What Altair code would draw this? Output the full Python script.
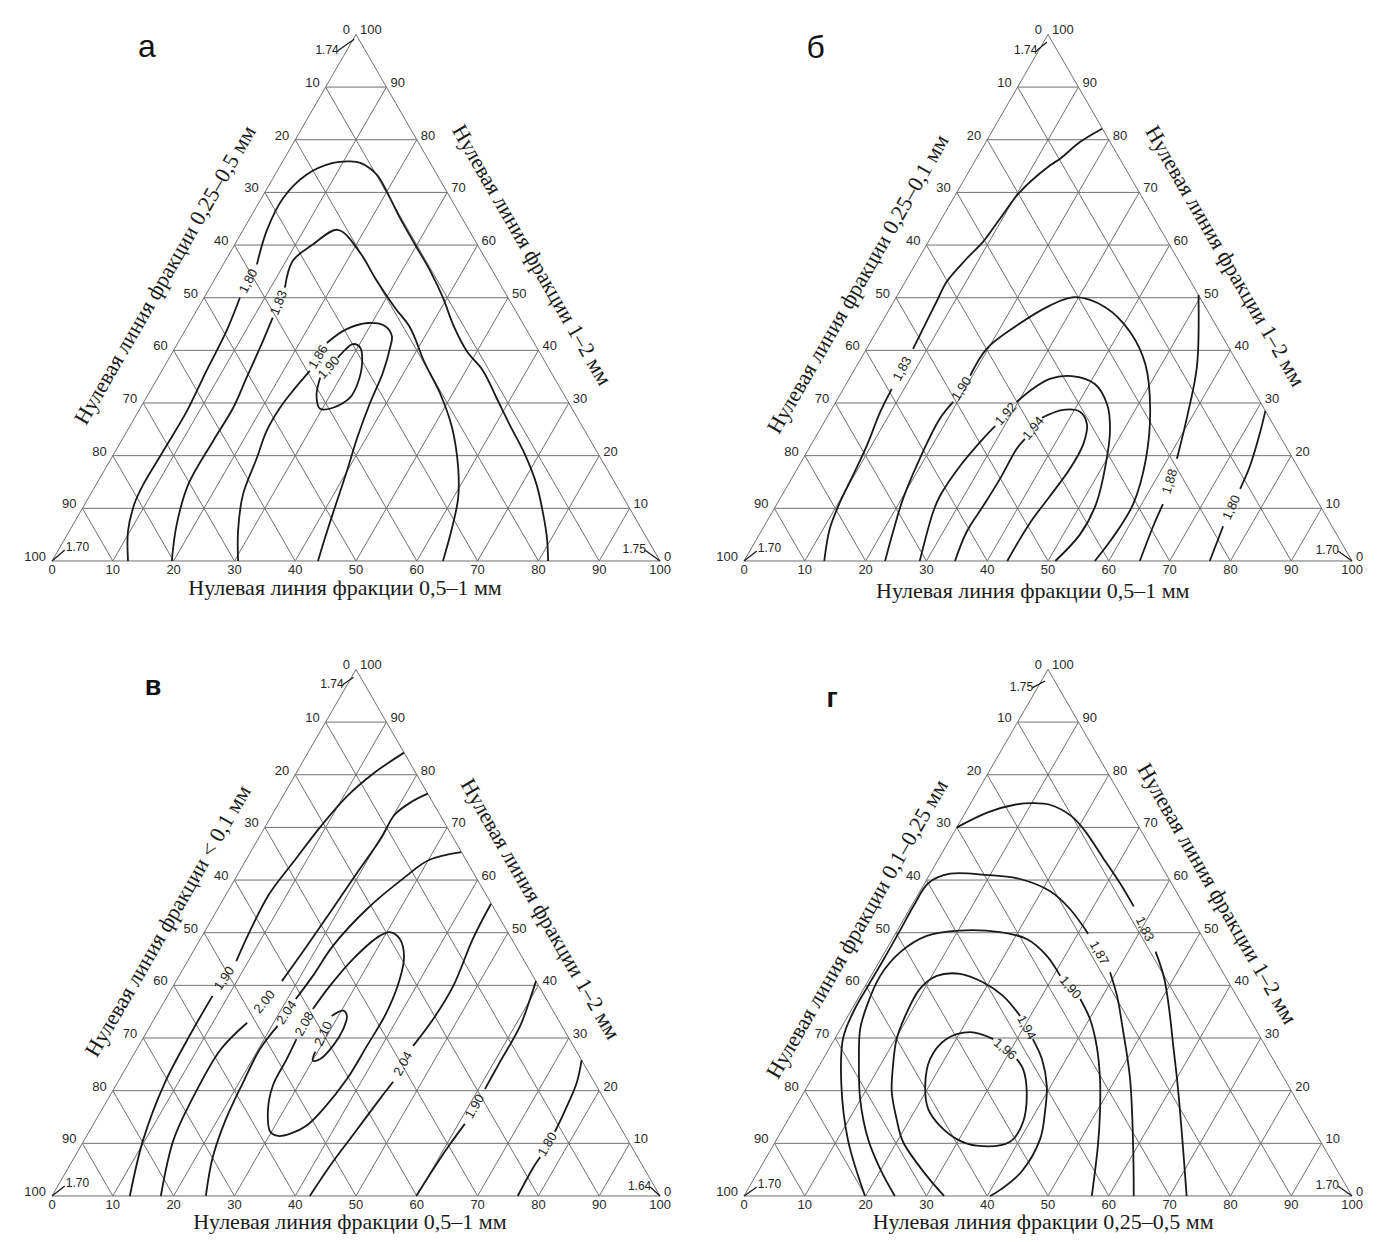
import math
import altair as alt
import pandas as pd

# ------------------------------------------------------------------
# Readings.  Every point is (x, c):
#   x = position read on the bottom scale (0..100)
#   c = level read on the horizontal grid (0 at the base, 100 at the apex)
# ------------------------------------------------------------------
TICKS = list(range(0, 101, 10))
GRID = list(range(10, 100, 10))

# ---- panel а ----
A_180 = [(12.5, 0), (12.5, 5.7), (13.6, 11.0), (15.0, 14.5), (18.3, 20.9), (22.2, 28.5), (25.4, 36.1),
         (28.7, 43.7), (30.9, 50.0), (33.7, 56.3), (35.3, 62.7), (38.0, 68.9), (41.9, 73.4), (46.2, 75.6),
         (49.0, 75.9), (50.7, 75.6), (53.4, 73.4), (55.0, 70.3), (57.2, 65.2), (59.7, 60.1), (62.2, 55.1),
         (64.3, 50.0), (66.0, 44.8), (68.2, 39.9), (70.9, 36.1), (73.1, 31.0), (75.3, 25.8), (77.8, 20.2),
         (79.7, 14.5), (80.8, 8.8), (81.4, 4.4), (81.6, 0)]
A_183 = [(19.7, 0), (20.5, 6.9), (22.4, 14.5), (26.5, 22.8), (29.8, 29.1), (32.0, 34.8), (34.7, 41.8),
         (36.3, 46.2), (38.3, 51.9), (39.6, 57.0), (42.9, 60.1), (47.0, 62.9), (50.7, 58.5), (53.1, 53.8),
         (56.4, 48.1), (58.9, 44.3), (61.3, 37.6), (63.8, 31.9), (65.8, 25.3), (66.8, 17.7), (66.8, 12.0),
         (65.8, 6.3), (64.3, 0)]
A_186 = [(30.6, 0), (30.6, 5.7), (31.4, 12.6), (33.7, 19.6), (35.3, 24.7), (37.5, 29.1), (39.6, 32.3),
         (42.4, 36.1), (45.2, 41.4), (48.2, 43.9), (52.0, 45.2), (54.8, 44.6), (55.9, 42.7), (55.6, 40.5),
         (54.4, 35.7), (52.3, 30.0), (50.2, 23.4), (48.4, 16.7), (46.5, 10.1), (44.9, 4.4), (43.75, 0)]
A_190 = [(44.1, 34.8), (43.5, 31.3), (44.1, 28.9), (46.2, 29.1), (49.0, 31.0), (50.3, 33.8), (51.0, 37.6),
         (50.7, 40.5), (49.5, 41.2), (48.2, 40.1), (47.0, 38.6)]

# ---- panel б ----
B_183 = [(13.2, 0), (14.1, 6.1), (15.8, 11.2), (17.9, 16.2), (20.2, 21.9), (22.4, 28.3), (24.3, 32.7),
         (27.8, 40.3), (30.0, 45.4), (31.9, 49.8), (33.3, 53.0), (36.6, 57.4), (39.3, 60.6), (42.1, 65.0),
         (45.4, 70.1), (50.3, 75.1), (52.0, 76.4), (55.3, 79.6), (58.9, 82.1)]
B_190 = [(23.2, 0), (24.5, 5.5), (26.15, 11.8), (28.9, 19.4), (32.2, 27.0), (34.4, 30.2), (37.2, 35.2),
         (39.9, 40.3), (44.85, 44.7), (50.3, 48.5), (54.4, 50.1), (59.4, 48.2), (63.5, 43.5), (66.0, 37.4),
         (66.8, 28.9), (66.1, 19.4), (64.0, 10.8), (60.5, 4.2), (57.7, 0)]
B_192 = [(28.9, 0), (31.1, 9.3), (32.2, 12.3), (35.5, 18.0), (39.3, 23.2), (41.3, 25.6), (44.85, 30.2),
         (47.5, 32.7), (50.3, 34.6), (53.9, 35.1), (57.7, 33.6), (59.7, 29.8), (60.2, 25.1), (59.5, 18.4),
         (57.9, 10.8), (55.3, 5.1), (51.2, 0)]
B_194 = [(34.7, 0), (36.6, 5.5), (39.3, 10.4), (42.1, 15.6), (44.85, 21.3), (46.2, 23.2), (49.0, 27.2),
         (52.5, 28.7), (55.3, 28.3), (56.4, 26.0), (55.8, 22.2), (53.6, 17.5), (50.3, 12.3), (47.5, 8.0),
         (45.4, 4.2), (43.3, 0)]
B_188 = [(74.75, 50.5), (74.5, 37.0), (72.9, 27.5), (71.2, 19.4), (68.9, 10.8), (67.3, 6.6), (65.1, 0)]
B_180 = [(85.75, 28.5), (84.9, 24.5), (83.2, 18.0), (81.6, 13.7), (78.8, 6.6), (76.6, 0)]

# ---- panel в ----
C_190L = [(12.8, 0), (15.0, 10.7), (18.55, 21.5), (22.8, 30.8), (26.4, 38.0), (30.3, 44.6), (32.8, 50.9),
          (35.7, 57.3), (39.95, 63.8), (44.2, 70.2), (48.5, 75.9), (52.8, 80.2), (57.9, 84.2)]
C_200 = [(17.9, 0), (20.0, 10.7), (23.5, 19.4), (27.8, 27.9), (32.1, 32.9), (37.8, 40.8), (41.4, 46.6),
         (45.7, 53.8), (49.9, 60.9), (54.2, 68.1), (56.35, 72.4), (59.2, 74.9), (61.8, 76.4)]
C_204L = [(25.3, 0), (26.4, 7.2), (28.5, 14.3), (31.4, 21.5), (34.2, 27.9), (37.1, 32.3), (40.1, 37.4),
          (42.9, 41.8), (46.2, 47.5), (51.8, 54.5), (58.1, 60.6), (62.0, 63.8), (67.3, 65.3)]
C_208 = [(42.9, 35.5), (45.7, 39.9), (49.5, 45.0), (53.9, 49.4), (55.6, 50.1), (57.2, 48.8), (57.9, 45.6),
         (57.2, 41.2), (55.05, 34.9), (51.8, 28.5), (48.5, 22.2), (44.6, 16.5), (41.9, 13.4), (39.1, 11.8),
         (37.2, 11.4), (35.9, 12.2), (35.5, 16.0), (36.3, 20.9), (38.6, 26.0), (40.2, 29.8)]
C_210 = [(46.0, 34.2), (47.9, 35.2), (48.5, 34.2), (47.9, 31.7), (46.2, 28.5), (44.1, 26.0), (42.9, 25.7),
         (43.3, 27.4)]
C_204R = [(72.2, 55.5), (69.2, 48.8), (66.0, 39.9), (62.7, 33.6), (59.4, 28.5), (56.1, 21.7), (53.9, 18.4),
          (49.9, 12.2), (45.7, 5.7), (42.4, 0)]
C_190R = [(79.6, 40.8), (78.8, 38.0), (77.0, 32.3), (73.5, 25.1), (71.2, 20.3), (67.9, 13.7), (65.5, 9.9),
          (63.5, 6.5), (59.9, 0)]
C_180 = [(87.1, 25.8), (86.3, 21.5), (84.2, 15.8), (82.7, 12.2), (80.3, 7.4), (79.2, 5.5), (76.6, 0)]

# ---- panel г ----
D_183 = [(35.0, 70.0), (40.2, 72.9), (44.5, 74.3), (47.4, 74.6), (50.3, 74.3), (53.9, 72.1), (56.1, 69.3),
         (59.0, 64.3), (61.9, 59.3), (64.1, 55.0), (67.7, 46.4), (69.1, 41.4), (69.9, 35.7), (70.6, 28.5),
         (71.3, 21.3), (72.0, 12.1), (72.8, 0)]
D_187 = [(19.9, 0), (17.1, 10.6), (16.0, 21.3), (16.3, 30.0), (18.3, 35.7), (20.4, 39.9), (23.0, 45.0),
         (25.5, 50.1), (28.0, 55.3), (30.3, 59.4), (33.9, 61.2), (39.6, 61.0), (45.4, 60.2), (50.3, 57.9),
         (53.6, 54.5), (56.6, 49.8), (60.2, 42.5), (61.35, 38.0), (62.3, 31.7), (63.5, 22.2), (64.0, 9.5),
         (64.1, 0)]
D_190 = [(24.8, 0), (22.4, 5.1), (20.4, 10.8), (19.1, 18.4), (18.9, 26.0), (19.1, 31.7), (20.2, 36.1),
         (22.4, 41.8), (25.7, 46.3), (30.05, 49.4), (35.5, 50.4), (42.1, 50.1), (46.5, 48.8), (49.8, 45.6),
         (52.0, 41.8), (55.3, 37.4), (56.9, 33.6), (58.0, 28.5), (58.55, 22.2), (58.55, 16.0), (58.2, 9.5),
         (57.2, 0)]
D_194 = [(32.9, 0), (29.8, 4.2), (26.15, 10.3), (25.1, 14.6), (24.3, 19.75), (24.5, 24.7), (25.1, 29.8),
         (26.8, 34.9), (28.9, 39.3), (31.7, 41.8), (35.5, 42.2), (39.3, 40.6), (42.6, 38.0), (45.4, 34.2),
         (47.5, 29.8), (49.0, 26.0), (49.8, 20.95), (49.5, 15.95), (48.7, 10.8), (45.7, 4.7), (42.3, 1.3),
         (40.5, 0)]
D_196 = [(41.0, 29.8), (37.2, 31.1), (33.3, 29.8), (30.6, 26.0), (29.8, 20.95), (30.3, 16.5), (32.2, 13.35),
         (35.0, 10.8), (38.3, 9.55), (43.75, 10.3), (45.9, 14.05), (46.5, 19.75), (45.9, 24.1), (44.85, 26.0)]

# contour: (label, points, index after which the label gap sits, closed loop?)
CONTOURS = {
    "а": [("1,80", A_180, 8, False), ("1,83", A_183, 7, False), ("1,86", A_186, 7, False),
          ("1,90", A_190, None, True)],
    "б": [("1,83", B_183, 6, False), ("1,90", B_190, 5, False), ("1,92", B_192, 5, False),
          ("1,94", B_194, 5, False), ("1,88", B_188, 3, False), ("1,80", B_180, 3, False)],
    "в": [("1,90", C_190L, 4, False), ("2.00", C_200, 4, False), ("2.04", C_204L, 5, False),
          ("2.08", C_208, None, True), ("2.10", C_210, None, True), ("2.04", C_204R, 4, False),
          ("1.90", C_190R, 4, False), ("1.80", C_180, 3, False)],
    "г": [("1,83", D_183, 9, False), ("1,87", D_187, 15, False), ("1,90", D_190, 14, False),
          ("1,94", D_194, 13, False), ("1,96", D_196, None, True)],
}

# short leader lines at the corners: (label, points, label sits at "first"/"last" point)
LEADERS = {
    "а": [("1.74", [(47.0, 96.9), (49.7, 99.1)], "first"), ("1.70", [(0, 0), (2.1, 2.1)], "last"),
          ("1.75", [(97.5, 2.1), (100, 0)], "first")],
    "б": [("1.74", [(48.1, 96.9), (49.8, 98.5)], "first"), ("1.70", [(0, 0), (2.1, 1.9)], "last"),
          ("1.70", [(97.7, 1.9), (100, 0)], "first")],
    "в": [("1.74", [(47.8, 97.1), (49.6, 98.5)], "first"), ("1.70", [(0, 0), (2.1, 1.9)], "last"),
          ("1.64", [(98.4, 1.7), (100, 0)], "first")],
    "г": [("1.75", [(47.4, 96.5), (49.5, 97.8)], "first"), ("1.70", [(0, 0), (2.1, 1.7)], "last"),
          ("1.70", [(97.7, 1.9), (100, 0)], "first")],
}

TITLES = {
    "а": ("Нулевая линия фракции 0,25–0,5 мм", "Нулевая линия фракции 1–2 мм", "Нулевая линия фракции 0,5–1  мм"),
    "б": ("Нулевая линия фракции 0,25–0,1  мм", "Нулевая линия фракции 1–2  мм", "Нулевая линия фракции 0,5–1  мм"),
    "в": ("Нулевая линия фракции < 0,1  мм", "Нулевая линия фракции 1–2  мм", "Нулевая линия фракции 0,5–1  мм"),
    "г": ("Нулевая линия фракции 0,1–0,25  мм", "Нулевая линия фракции 1–2  мм", "Нулевая линия фракции 0,25–0,5  мм"),
}

# ------------------------------------------------------------------
# layout / style (kept apart from the data)
# ------------------------------------------------------------------
S3 = math.sqrt(3) / 2
K = 6.08                       # pixels per base unit
PANEL_W, PANEL_H = 672, 580
X0 = -7.24
Y_TOP = 90.95
XDOM = [X0, X0 + PANEL_W / K]
YDOM = [Y_TOP - PANEL_H / K, Y_TOP]

TITLE_POS = {   # (x, c) of left, right, bottom titles
    "а": [(18.6, 54.3), (78.9, 58.1), (48.2, -5.1)],
    "б": [(18.75, 52.6), (79.1, 57.9), (47.5, -5.7)],
    "в": [(19.1, 52.2), (80.3, 54.5), (49.0, -5.0)],
    "г": [(18.6, 50.7), (77.8, 57.4), (49.2, -5.0)],
}
LETTER_POS = {"а": (15.6, 97.6), "б": (11.8, 97.4), "в": (16.6, 96.7), "г": (14.5, 94.4)}
LETTER_STYLE = {"а": (32, "normal"), "б": (32, "normal"), "в": (27, "bold"), "г": (27, "bold")}

GRID_COLOR = "#6f6f6f"
LINE_COLOR = "#1a1a1a"
SANS = "Liberation Sans"
SERIF = "Liberation Serif"

xs = alt.Scale(domain=XDOM, nice=False, zero=False)
ys = alt.Scale(domain=YDOM, nice=False, zero=False)


def pos():
    return dict(x=alt.X("x:Q", scale=xs, axis=None), y=alt.Y("y:Q", scale=ys, axis=None))


def grid_frame():
    rows = []
    for c in GRID:
        rows.append((c / 2, c, 100 - c / 2, c))
    for t in GRID:
        rows.append((t, 0, t + (100 - t) / 2, 100 - t))
        rows.append((t, 0, t / 2, t))
    rows += [(0, 0, 100, 0), (0, 0, 50, 100), (100, 0, 50, 100)]
    return pd.DataFrame([{"x": a, "y": b * S3, "x2": c, "y2": d * S3} for a, b, c, d in rows])


def contour_frames(contours):
    segs, labs = [], []
    for ci, (text, pts, gap, closed) in enumerate(contours):
        parts = [pts] if closed else [pts[:gap + 1], pts[gap + 1:]]
        for si, part in enumerate(parts):
            for k, (u, c) in enumerate(part):
                segs.append({"seg": f"{ci}-{si}", "k": k, "x": u, "y": c * S3})
        p, q = (pts[-1], pts[0]) if closed else (pts[gap], pts[gap + 1])
        dx = q[0] - p[0]
        dy = -(q[1] - p[1]) * S3
        ang = math.degrees(math.atan2(dy, dx))
        if ang > 90:
            ang -= 180
        if ang < -90:
            ang += 180
        labs.append({"x": (p[0] + q[0]) / 2, "y": (p[1] + q[1]) / 2 * S3, "t": text, "a": ang % 360})
    return pd.DataFrame(segs), pd.DataFrame(labs)


def make_panel(key):
    layers = []
    g = grid_frame()
    layers.append(alt.Chart(g).mark_rule(color=GRID_COLOR, strokeWidth=1).encode(
        x=alt.X("x:Q", scale=xs, axis=None), y=alt.Y("y:Q", scale=ys, axis=None),
        x2="x2:Q", y2="y2:Q"))

    # tick labels
    left = pd.DataFrame([{"x": c / 2, "y": c * S3, "t": str(100 - c)} for c in TICKS])
    right = pd.DataFrame([{"x": 100 - c / 2, "y": c * S3, "t": str(c)} for c in TICKS])
    bottom = pd.DataFrame([{"x": t, "y": 0, "t": str(t)} for t in TICKS])
    tick_style = dict(font=SANS, fontSize=13, color="#2a2a2a")
    layers.append(alt.Chart(left).mark_text(align="right", baseline="middle", dx=-6, dy=-4, **tick_style)
                  .encode(text="t:N", **pos()))
    layers.append(alt.Chart(right).mark_text(align="left", baseline="middle", dx=4, dy=-4, **tick_style)
                  .encode(text="t:N", **pos()))
    layers.append(alt.Chart(bottom).mark_text(align="center", baseline="top", dy=3, **tick_style)
                  .encode(text="t:N", **pos()))

    # contours
    segs, labs = contour_frames(CONTOURS[key])
    layers.append(alt.Chart(segs).mark_line(color=LINE_COLOR, strokeWidth=1.8, interpolate="catmull-rom")
                  .encode(detail="seg:N", order="k:Q", **pos()))
    layers.append(alt.Chart(labs).mark_text(font=SANS, fontSize=13, color="#222", baseline="middle")
                  .encode(text="t:N", angle=alt.Angle("a:Q", scale=None), **pos()))

    # corner leaders
    lrows, first_lab, last_lab = [], [], []
    for li, (text, pts, where) in enumerate(LEADERS[key]):
        for k, (u, c) in enumerate(pts):
            lrows.append({"seg": li, "k": k, "x": u, "y": c * S3})
        u, c = pts[0] if where == "first" else pts[-1]
        (first_lab if where == "first" else last_lab).append({"x": u, "y": c * S3, "t": text})
    layers.append(alt.Chart(pd.DataFrame(lrows)).mark_line(color=LINE_COLOR, strokeWidth=1.3)
                  .encode(detail="seg:N", order="k:Q", **pos()))
    layers.append(alt.Chart(pd.DataFrame(first_lab)).mark_text(
        align="right", baseline="middle", dx=1, dy=-1, font=SANS, fontSize=12, color="#222")
        .encode(text="t:N", **pos()))
    layers.append(alt.Chart(pd.DataFrame(last_lab)).mark_text(
        align="left", baseline="middle", dx=1, dy=-3, font=SANS, fontSize=12, color="#222")
        .encode(text="t:N", **pos()))

    # axis titles
    tl, tr, tb = TITLES[key]
    (lx, lc), (rx, rc), (bx, bc) = TITLE_POS[key]
    tdf = pd.DataFrame([
        {"x": lx, "y": lc * S3, "t": tl, "a": 300},
        {"x": rx, "y": rc * S3, "t": tr, "a": 60},
        {"x": bx, "y": bc * S3, "t": tb, "a": 0},
    ])
    layers.append(alt.Chart(tdf).mark_text(font=SERIF, fontSize=22, color="#1a1a1a",
                                           align="center", baseline="middle")
                  .encode(text="t:N", angle=alt.Angle("a:Q", scale=None), **pos()))

    # panel letter
    lu, lc2 = LETTER_POS[key]
    size, weight = LETTER_STYLE[key]
    layers.append(alt.Chart(pd.DataFrame([{"x": lu, "y": lc2 * S3, "t": key}])).mark_text(
        font=SANS, fontSize=size, fontWeight=weight, color="#111", align="center", baseline="middle")
        .encode(text="t:N", **pos()))

    return alt.layer(*layers).properties(width=PANEL_W, height=PANEL_H)


chart = alt.concat(
    make_panel("а"), make_panel("б"), make_panel("в"), make_panel("г"),
    columns=2, spacing={"row": 55, "column": 20}, bounds="flush",
).properties(padding=0).configure_view(stroke=None)

chart.save("out.html", embed_options={"renderer": "svg", "actions": False})
